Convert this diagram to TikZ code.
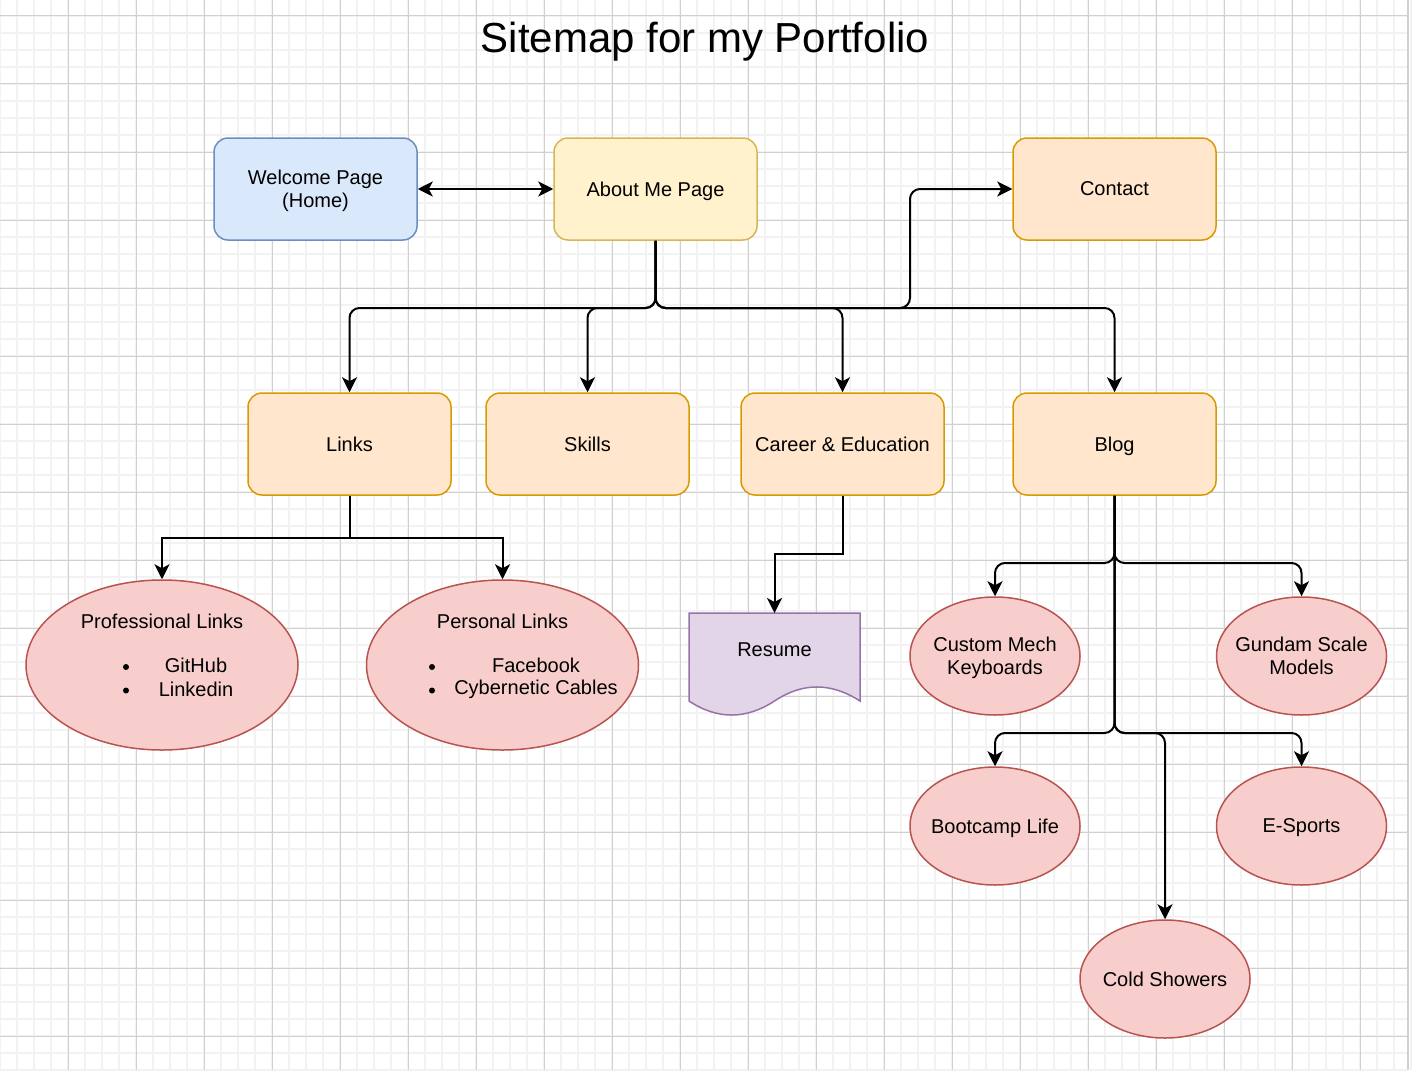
\documentclass[tikz,border=0pt]{standalone}
\usepackage{fontspec}
\setmainfont{Liberation Sans}
\usepackage{xcolor}
\usetikzlibrary{arrows.meta, shapes.geometric, positioning}

\definecolor{bluefill}{HTML}{DAE8FC}
\definecolor{blueline}{HTML}{6C8EBF}
\definecolor{yellowfill}{HTML}{FFF2CC}
\definecolor{yellowline}{HTML}{D6B656}
\definecolor{orangefill}{HTML}{FFE6CC}
\definecolor{orangeline}{HTML}{D79B00}
\definecolor{redfill}{HTML}{F8CECC}
\definecolor{redline}{HTML}{B85450}
\definecolor{purplefill}{HTML}{E1D5E7}
\definecolor{purpleline}{HTML}{9673A6}
\definecolor{gridminor}{HTML}{F2F2F2}
\definecolor{gridmajor}{HTML}{D0D0D0}

\begin{document}
\begin{tikzpicture}[x=0.5pt, y=-0.5pt, >={Stealth[length=7.5pt,width=7.5pt,inset=2pt]},
		font=\fontsize{10}{11.5}\selectfont,
		page/.style={rectangle, rounded corners=7pt, line width=0.75pt, minimum width=101.5pt, minimum height=51pt, align=center, inner sep=0pt, text depth=0pt},
		bubble/.style={ellipse, fill=redfill, draw=redline, line width=0.75pt, inner sep=0pt},
		bubbletext/.style={align=center, text depth=0pt},
		dot/.style={circle, fill=black, inner sep=0pt, minimum size=3pt},
		link/.style={->, line width=1pt},
		elbow/.style={link, rounded corners=5pt}]
			\useasboundingbox (0,0) rectangle (1412,1070);
			
			% Grid
			\foreach \x in {0,17,...,1411} \draw[gridminor, line width=1pt] (\x,0) -- (\x,1070);
			\foreach \y in {16,33,...,1070} \draw[gridminor, line width=1pt] (0,\y) -- (1407,\y);
			\foreach \x in {68,136,...,1360} \draw[gridmajor, line width=0.5pt] (\x,0) -- (\x,1070);
			\foreach \y in {16,84,...,1070} \draw[gridmajor, line width=0.5pt] (0,\y) -- (1407,\y);
			\draw[gridmajor, line width=1pt] (1408,0) -- (1408,1070);
			
			% Title
			\node (title) at (705,37) [font=\fontsize{21}{25}\selectfont, text depth=0pt] {Sitemap for my Portfolio};
			
			% Top row
			\node (welcome) at (315.5,189) [page, fill=bluefill, draw=blueline] {Welcome Page\\(Home)};
			\node (about) at (655.5,189) [page, fill=yellowfill, draw=yellowline] {About Me Page};
			\node (contact) at (1114.5,189) [page, fill=orangefill, draw=orangeline] {Contact};
			
			% Second row
			\node (links) at (349.5,444) [page, fill=orangefill, draw=orangeline] {Links};
			\node (skills) at (587.5,444) [page, fill=orangefill, draw=orangeline] {Skills};
			\node (career) at (842.5,444) [page, fill=orangefill, draw=orangeline] {Career \& Education};
			\node (blog) at (1114.5,444) [page, fill=orangefill, draw=orangeline] {Blog};
			
			% Link bubbles
			\node (prof) at (162,665) [bubble, minimum width=136pt, minimum height=85pt] {};
			\node (proftitle) at (162,621) {Professional Links};
			\node (ghbullet) at (126,667) [dot] {};
			\node (github) at (196,665) {GitHub};
			\node (libullet) at (126,690.5) [dot] {};
			\node (linkedin) at (196,689) {Linkedin};
			
			\node (personal) at (502.5,665) [bubble, minimum width=136pt, minimum height=85pt] {};
			\node (perstitle) at (502.5,621) {Personal Links};
			\node (fbbullet) at (432,667) [dot] {};
			\node (facebook) at (536,665) {Facebook};
			\node (ccbullet) at (432,690.5) [dot] {};
			\node (cables) at (536,689) {Cybernetic Cables};
			
			% Resume document
			\draw[fill=purplefill, draw=purpleline, line width=0.75pt] (689,613) -- (860,613) -- (860,701)
			.. controls (831,682.3) and (802.5,682.3) .. (774.5,701)
			.. controls (745.8,719.7) and (717.3,719.7) .. (689,701) -- cycle;
			\node (resume) at (774.5,650) [text depth=0pt] {Resume};
			\coordinate (resumetop) at (774.5,613);
			
			% Blog bubbles
			\node (custom) at (995,656) [bubble, minimum width=85pt, minimum height=59pt,
				label={[bubbletext]center:Custom Mech\\Keyboards}] {};
			\node (gundam) at (1301.5,656) [bubble, minimum width=85pt, minimum height=59pt,
				label={[bubbletext]center:Gundam Scale\\Models}] {};
			\node (bootcamp) at (995,826) [bubble, minimum width=85pt, minimum height=59pt,
				label={[bubbletext]center:Bootcamp Life}] {};
			\node (esports) at (1301.5,826) [bubble, minimum width=85pt, minimum height=59pt,
				label={[bubbletext]center:E-Sports}] {};
			\node (cold) at (1165,979) [bubble, minimum width=85pt, minimum height=59pt,
				label={[bubbletext]center:Cold Showers}] {};
			
			% Bend points
			\coordinate (aboutsplit) at (655.5,308);
			\coordinate (contactbend) at (910,189);
			\coordinate (linksplit) at (349.5,538);
			\coordinate (careerbend) at (842.5,554);
			\coordinate (blogsplit) at (1114.5,563);
			\coordinate (blogsplitlow) at (1114.5,733);
			
			% Connectors
			\draw[<->, line width=1pt] (welcome.east) -- (about.west);
			\draw[elbow] (about.south) -- (aboutsplit) -| (contactbend) -- (contact.west);
			\draw[elbow] (about.south) -- (aboutsplit) -| (links.north);
			\draw[elbow] (about.south) -- (aboutsplit) -| (skills.north);
			\draw[elbow] (about.south) -- (aboutsplit) -| (career.north);
			\draw[elbow] (about.south) -- (aboutsplit) -| (blog.north);
			
			\draw[link] (links.south) -- (linksplit) -| (prof.north);
			\draw[link] (links.south) -- (linksplit) -| (personal.north);
			\draw[link] (career.south) -- (careerbend) -| (resumetop);
			
			\draw[elbow] (blog.south) -- (blogsplit) -| (custom.north);
			\draw[elbow] (blog.south) -- (blogsplit) -| (gundam.north);
			\draw[elbow] (blog.south) -- (blogsplitlow) -| (bootcamp.north);
			\draw[elbow] (blog.south) -- (blogsplitlow) -| (esports.north);
			\draw[elbow] (blog.south) -- (blogsplitlow) -| (cold.north);
		\end{tikzpicture}
\end{document}
